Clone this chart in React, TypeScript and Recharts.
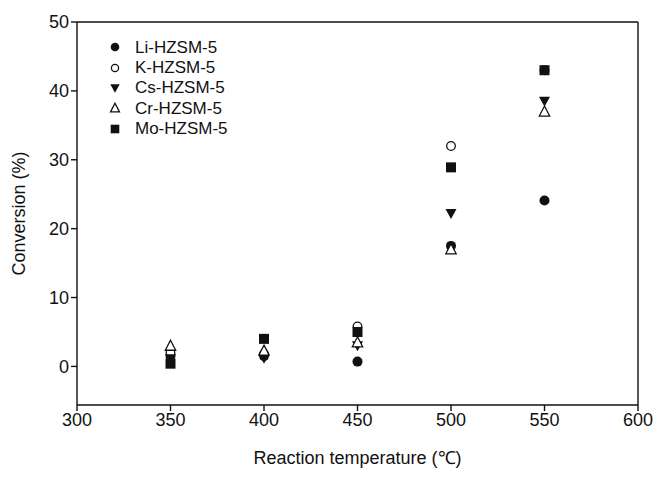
import React from 'react'
import { ScatterChart, Scatter, XAxis, YAxis, ReferenceLine } from 'recharts'

const temps = [350, 400, 450, 500, 550]
const liValues = [1.5, 1.5, 0.7, 17.5, 24.1]
const kValues = [2.0, 1.8, 5.8, 32.0, 43.0]
const csValues = [1.1, 1.2, 3.0, 22.2, 38.5]
const crValues = [3.0, 2.3, 3.5, 17.0, 37.0]
const moValues = [0.4, 4.0, 5.0, 28.9, 43.0]

const xTicks = [300, 350, 400, 450, 500, 550, 600]
const yTicks = [0, 10, 20, 30, 40, 50]

const font = 'Liberation Sans, Arial, sans-serif'
const ink = '#111'

type Kind = 'dot' | 'ring' | 'down' | 'up' | 'square'

function Marker({ kind, cx, cy, r = 5 }: { kind: Kind; cx: number; cy: number; r?: number }) {
  if (kind === 'dot') return <circle cx={cx} cy={cy} r={r} fill={ink} />
  if (kind === 'ring') return <circle cx={cx} cy={cy} r={r - 0.7} fill='#fff' stroke={ink} strokeWidth={1.3} />
  if (kind === 'square') return <rect x={cx - r} y={cy - r} width={r * 2} height={r * 2} fill={ink} />
  const h = r * 1.1
  if (kind === 'down')
    return <path d={`M${cx - h},${cy - r * 0.9} L${cx + h},${cy - r * 0.9} L${cx},${cy + h} Z`} fill={ink} />
  return (
    <path
      d={`M${cx},${cy - h} L${cx + r * 1.04},${cy + r * 0.9} L${cx - r * 1.04},${cy + r * 0.9} Z`}
      fill='#fff'
      stroke={ink}
      strokeWidth={1.3}
    />
  )
}

const series: { name: string; kind: Kind; values: number[] }[] = [
  { name: 'Li-HZSM-5', kind: 'dot', values: liValues },
  { name: 'K-HZSM-5', kind: 'ring', values: kValues },
  { name: 'Cs-HZSM-5', kind: 'down', values: csValues },
  { name: 'Cr-HZSM-5', kind: 'up', values: crValues },
  { name: 'Mo-HZSM-5', kind: 'square', values: moValues },
]

function LegendBox() {
  return (
    <div style={{ position: 'absolute', left: 105, top: 37, fontFamily: font, fontSize: 17, color: ink, lineHeight: 1 }}>
      {series.map((s) => (
        <div key={s.name} style={{ display: 'flex', alignItems: 'center', height: 20.4 }}>
          <svg width={20} height={16} style={{ marginRight: 10 }}>
            <Marker kind={s.kind} cx={10} cy={8} r={4.3} />
          </svg>
          <span>{s.name}</span>
        </div>
      ))}
    </div>
  )
}

export default function App() {
  return (
    <div style={{ position: 'fixed', left: 0, top: 0, width: 658, height: 491, background: '#fff' }}>
      <ScatterChart width={658} height={491} margin={{ top: 22, right: 20, bottom: 0, left: 0 }}>
        <XAxis
          type='number'
          dataKey='x'
          domain={[300, 600]}
          ticks={xTicks}
          height={86}
          tickSize={6}
          stroke={ink}
          strokeWidth={1.4}
          tick={{ fill: ink, fontSize: 18, fontFamily: font }}
          label={{ value: 'Reaction temperature (℃)', position: 'insideBottom', offset: 27, fill: ink, fontSize: 18, fontFamily: font }}
        />
        <YAxis
          type='number'
          dataKey='y'
          domain={[-5.6, 50]}
          ticks={yTicks}
          width={77}
          tickSize={6}
          stroke={ink}
          strokeWidth={1.4}
          allowDataOverflow
          tick={{ fill: ink, fontSize: 18, fontFamily: font }}
          label={{ value: 'Conversion (%)', angle: -90, position: 'insideLeft', offset: 19, fill: ink, fontSize: 18, fontFamily: font, style: { textAnchor: 'middle' } }}
        />
        <ReferenceLine y={50} stroke={ink} strokeWidth={1.4} />
        <ReferenceLine x={600} stroke={ink} strokeWidth={1.4} />
        {series.map((s) => (
          <Scatter
            key={s.name}
            name={s.name}
            data={temps.map((t, i) => ({ x: t, y: s.values[i] }))}
            isAnimationActive={false}
            shape={(p: any) => <Marker kind={s.kind} cx={p.cx} cy={p.cy} />}
          />
        ))}
      </ScatterChart>
      <LegendBox />
    </div>
  )
}
